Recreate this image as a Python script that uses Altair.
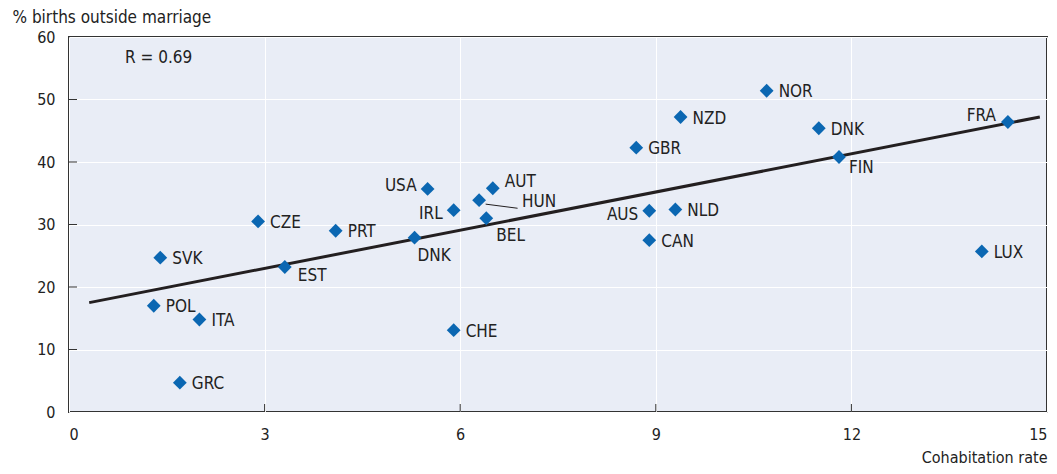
import altair as alt
import pandas as pd

# ---- data ----
countries = ["NOR", "NZD", "DNK", "FRA", "GBR", "FIN", "USA", "AUT", "HUN", "IRL",
             "BEL", "AUS", "NLD", "CZE", "PRT", "DNK", "CAN", "LUX", "SVK", "EST",
             "POL", "ITA", "CHE", "GRC"]
cohabitation = [10.70, 9.38, 11.50, 14.40, 8.70, 11.81, 5.50, 6.50, 6.29, 5.90,
                6.40, 8.90, 9.30, 2.90, 4.09, 5.30, 8.90, 14.00, 1.40, 3.31,
                1.30, 2.00, 5.90, 1.70]
births_outside = [51.4, 47.2, 45.4, 46.4, 42.3, 40.8, 35.7, 35.8, 33.9, 32.3,
                  31.0, 32.2, 32.4, 30.5, 29.0, 27.9, 27.5, 25.7, 24.7, 23.2,
                  17.0, 14.8, 13.1, 4.7]

# fitted line end points
fit_x = [0.31, 14.89]
fit_y = [17.5, 47.2]

# HUN leader line end points
leader_x = [6.39, 6.88]
leader_y = [33.26, 32.6]

x_ticks = [0, 3, 6, 9, 12, 15]
y_ticks = [0, 10, 20, 30, 40, 50, 60]
r_text = "R = 0.69"

# ---- label placement styles (pixel offsets) ----
label_style = ["r", "r", "r", "ul", "r", "fin", "l", "ur", "hun", "l2",
               "b2", "l2", "r", "r", "r", "b1", "r", "r", "r", "br",
               "r", "r", "r", "r"]
presets = {
    "r": dict(align="left", dx=12, dy=1.5),
    "ur": dict(align="left", dx=12, dy=-6),
    "l": dict(align="right", dx=-11, dy=-3),
    "l2": dict(align="right", dx=-11, dy=4),
    "ul": dict(align="right", dx=-12, dy=-6),
    "br": dict(align="left", dx=13, dy=9),
    "fin": dict(align="left", dx=10, dy=11),
    "b1": dict(align="left", dx=3, dy=18),
    "b2": dict(align="left", dx=10, dy=18),
    "hun": dict(align="left", dx=43, dy=2),
}

FONT = "Liberation Sans Narrow, Arial Narrow, DejaVu Sans Condensed, sans-serif"
W, H = 978, 375
BLUE = "#0B67B2"
TXT = "#222222"

df = pd.DataFrame({"country": countries, "x": cohabitation, "y": births_outside,
                   "style": label_style})
fit_df = pd.DataFrame({"x": fit_x, "y": fit_y})
lead_df = pd.DataFrame({"x": leader_x, "y": leader_y})

xs = alt.Scale(domain=[0, 15], nice=False, zero=False)
ys = alt.Scale(domain=[0, 60], nice=False, zero=False)

base = alt.Chart(df)

points = base.mark_point(shape="diamond", filled=True, size=190, color=BLUE, opacity=1).encode(
    x=alt.X("x:Q", scale=xs, axis=alt.Axis(
        values=x_ticks, format="d", grid=True, gridColor="white", gridWidth=1, ticks=False,
        domain=False, labelFlush=True,
        labelFont=FONT, labelFontSize=16, labelColor=TXT, labelPadding=14,
        title="Cohabitation rate", titleFont=FONT, titleFontSize=16, titleFontWeight="normal",
        titleColor=TXT, titleX=W, titleY=50, titleAlign="right", titleBaseline="alphabetic",
        titleAnchor="end")),
    y=alt.Y("y:Q", scale=ys, axis=alt.Axis(
        values=y_ticks, format="d", grid=True, gridColor="white", gridWidth=1, ticks=False,
        domain=False,
        labelFont=FONT, labelFontSize=16, labelColor=TXT, labelPadding=14,
        title="% births outside marriage", titleFont=FONT, titleFontSize=17,
        titleFontWeight="normal", titleColor=TXT, titleAngle=0, titleX=-57, titleY=-15,
        titleAlign="left", titleBaseline="alphabetic")),
)

fit = alt.Chart(fit_df).mark_line(color="#231F20", strokeWidth=3).encode(
    x=alt.X("x:Q", scale=xs), y=alt.Y("y:Q", scale=ys))

leader = alt.Chart(lead_df).mark_line(color="#231F20", strokeWidth=1).encode(
    x=alt.X("x:Q", scale=xs), y=alt.Y("y:Q", scale=ys))

labels = []
for key, p in presets.items():
    labels.append(
        base.transform_filter(alt.datum.style == key).mark_text(
            font=FONT, fontSize=17, color=TXT, baseline="middle", **p
        ).encode(x=alt.X("x:Q", scale=xs), y=alt.Y("y:Q", scale=ys), text="country:N")
    )

ytick_df = pd.DataFrame({"v": y_ticks[1:-1]})
xtick_df = pd.DataFrame({"v": x_ticks[1:-1]})
yticks = alt.Chart(ytick_df).mark_rule(color="#333333", strokeWidth=1).encode(
    y=alt.Y("v:Q", scale=ys), x=alt.value(0), x2=alt.value(8))
xticks = alt.Chart(xtick_df).mark_rule(color="#333333", strokeWidth=1).encode(
    x=alt.X("v:Q", scale=xs), y=alt.value(H), y2=alt.value(H - 8))

rlabel = alt.Chart(pd.DataFrame({"t": [r_text]})).mark_text(
    font=FONT, fontSize=17, color=TXT, align="left", baseline="middle").encode(
    x=alt.value(56), y=alt.value(21), text="t:N")

chart = alt.layer(fit, leader, points, *labels, yticks, xticks, rlabel).properties(
    width=W, height=H,
    autosize=alt.AutoSizeParams(type="none"),
    padding={"left": 61, "top": 29, "right": 2, "bottom": 54},
    background="white",
).configure_view(
    fill="#E9EDF6", stroke="#333333", strokeWidth=2
)

chart.save("out.html", embed_options={"renderer": "svg", "actions": False})
